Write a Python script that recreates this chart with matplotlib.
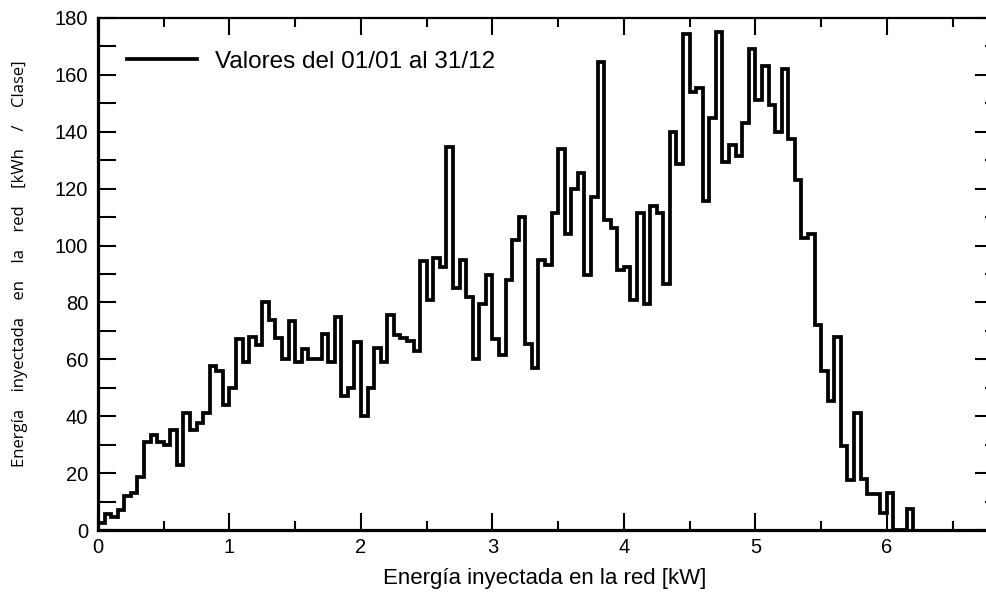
import numpy as np
import matplotlib
matplotlib.use("Agg")
import matplotlib.pyplot as plt
from matplotlib.ticker import MultipleLocator

# =========================================================
# DATA  (energy per 0.05 kW class)
# =========================================================
BIN_START = 0.0
BIN_WIDTH = 0.05

energia_clase = [
    2.5, 5.5, 4.5, 7.0, 12.0, 13.0, 18.5, 31.0, 33.5, 31.0,
    30.0, 35.0, 23.0, 41.0, 35.0, 37.5, 41.0, 57.5, 56.0, 44.0,
    50.0, 67.0, 59.0, 68.0, 65.0, 80.0, 74.0, 67.5, 60.0, 73.5,
    59.0, 63.5, 60.0, 60.0, 69.0, 59.0, 75.0, 47.0, 50.0, 66.0,
    40.0, 50.0, 64.0, 59.0, 75.5, 68.5, 67.5, 66.5, 63.0, 94.5,
    81.0, 95.5, 92.5, 134.5, 85.0, 95.0, 82.0, 60.0, 79.5, 89.5,
    67.0, 61.5, 88.0, 102.0, 110.0, 65.5, 57.0, 95.0, 93.0, 111.5,
    134.0, 104.0, 120.0, 125.5, 89.5, 117.0, 164.5, 109.0, 106.0, 91.5,
    92.5, 81.0, 111.5, 79.5, 114.0, 111.5, 86.5, 140.0, 128.5, 174.5,
    154.0, 155.5, 115.5, 145.0, 175.0, 129.5, 135.5, 131.5, 143.0, 169.0,
    151.0, 163.0, 149.5, 140.0, 162.0, 137.5, 123.0, 102.5, 104.0, 72.0,
    56.0, 45.5, 68.0, 29.5, 17.5, 41.0, 18.0, 12.5, 12.5, 6.0,
    13.0, 0.0, 0.0, 7.5,
]

LEGEND_LABEL = "Valores del 01/01 al 31/12"
XLABEL = "Energía inyectada en la red [kW]"
YLABEL = "    ".join(["Energía", "inyectada", "en", "la", "red",
                      "[kWh", "/", "Clase]"])

X_MAX = 6.8
Y_MAX = 180

# =========================================================
# PLOT
# =========================================================
edges = BIN_START + BIN_WIDTH * np.arange(len(energia_clase) + 1)

plt.rcParams["font.family"] = ["Liberation Sans", "DejaVu Sans"]

fig = plt.figure(figsize=(9.87, 5.95), dpi=100)
ax = fig.add_axes([98 / 987, 65 / 595, 894 / 987, 512 / 595])

ax.stairs(energia_clase, edges, baseline=0, color="black", lw=2.7,
          label=LEGEND_LABEL)

ax.set_xlim(0, X_MAX)
ax.set_ylim(0, Y_MAX)

ax.xaxis.set_major_locator(MultipleLocator(1))
ax.xaxis.set_minor_locator(MultipleLocator(0.5))
ax.yaxis.set_major_locator(MultipleLocator(20))
ax.yaxis.set_minor_locator(MultipleLocator(10))

for side in ["left", "bottom"]:
    ax.spines[side].set_linewidth(2.3)
for side in ["top", "right"]:
    ax.spines[side].set_linewidth(1.6)

ax.tick_params(axis="x", which="both", direction="in", top=True, bottom=True,
               width=1.5, labelsize=14.5, pad=6)
ax.tick_params(axis="x", which="major", length=12)
ax.tick_params(axis="x", which="minor", length=6.5)
ax.tick_params(axis="y", which="both", direction="in", left=True, right=False,
               length=13, width=1.5, labelsize=14.5, pad=7)

# right-hand ticks: shorter minors
sec = ax.secondary_yaxis("right")
sec.yaxis.set_major_locator(MultipleLocator(20))
sec.yaxis.set_minor_locator(MultipleLocator(10))
sec.tick_params(which="both", direction="in", width=1.5, labelright=False)
sec.tick_params(which="major", length=12)
sec.tick_params(which="minor", length=5)

ax.set_xlabel(XLABEL, fontsize=16, labelpad=8)
ax.set_ylabel(YLABEL, fontsize=12, family=["Open Sans", "DejaVu Sans"])
ax.yaxis.set_label_coords(-0.078, 0.52)

ax.legend(loc="center left", frameon=False, fontsize=17.5,
          handlelength=2.9, handletextpad=0.72, borderpad=0,
          bbox_to_anchor=(29 / 894, (530 - 62) / 512), borderaxespad=0)

fig.savefig("out.png", dpi=100)
